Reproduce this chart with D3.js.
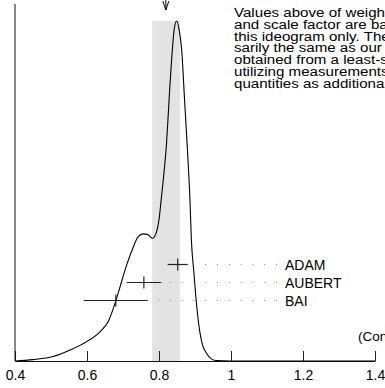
<!DOCTYPE html>
<html><head><meta charset="utf-8">
<script src="https://cdn.jsdelivr.net/npm/d3@7"></script>
<style>
html,body{margin:0;padding:0;background:#fff;overflow:hidden;}
svg{display:block;font-family:"Liberation Sans",Arial,sans-serif;}
</style></head>
<body>
<script>
// ---- data ----
const ideogramX = [0.400,0.450,0.506,0.553,0.599,0.636,0.659,0.678,0.692,0.710,0.729,0.742,0.756,0.770,0.782,0.792,0.801,0.806,0.811,0.821,0.828,0.837,0.842,0.849,0.856,0.863,0.871,0.879,0.886,0.890,0.897,0.905,0.914,0.921,0.932,0.944,0.961,0.997,1.400];
const ideogramY = [0.000,0.004,0.013,0.032,0.057,0.086,0.116,0.170,0.219,0.282,0.336,0.366,0.374,0.371,0.361,0.376,0.424,0.474,0.524,0.641,0.768,0.915,0.974,1.000,0.974,0.915,0.768,0.621,0.474,0.356,0.259,0.159,0.082,0.047,0.023,0.007,0.001,0.000,0.000];
const names = ["ADAM","AUBERT","BAI"];
const values = [0.852,0.758,0.680];
const errors = [0.028,0.048,0.089];
const weightedAvg = 0.819;
const avgBand = [0.781,0.858];
const tickValues = [0.4,0.6,0.8,1.0,1.2,1.4];
const noteLines = [
  "Values above of weighted average, error,",
  "and scale factor are based upon the data in",
  "this ideogram only.  They are not neces-",
  "sarily the same as our `best' values,",
  "obtained from a least-squares constrained fit",
  "utilizing measurements of other (related)",
  "quantities as additional information."
];
const clText = "(Confidence Level = 0.015)";

// ---- chart ----
const W = 385, H = 388;
const svg = d3.select("body").append("svg").attr("width", W).attr("height", H);
const x = d3.scaleLinear().domain([0.4,1.4]).range([15,375]);
const y = d3.scaleLinear().domain([0,1]).range([361,21]);
const row = d3.scalePoint().domain(names).range([264.5,300.5]);

// band
svg.append("rect")
  .attr("x", x(avgBand[0])).attr("y", y(1))
  .attr("width", x(avgBand[1]) - x(avgBand[0]))
  .attr("height", y(0) - y(1))
  .attr("fill", "#e3e3e3");

// arrow marking weighted average
const ax = x(weightedAvg);
svg.append("path")
  .attr("d", `M${ax},0 L${ax},10 M${ax-3},1 L${ax},10 L${ax+3},1`)
  .attr("stroke", "#000").attr("fill", "none").attr("stroke-width", 1);

// axes
const axis = d3.axisBottom(x).tickValues(tickValues)
  .tickFormat(d3.format("")).tickSizeInner(-10).tickSizeOuter(0).tickPadding(9);
const gx = svg.append("g").attr("transform", `translate(0,${y(0)})`).call(axis);
gx.select(".domain").attr("stroke", "#111");
gx.selectAll(".tick line").attr("stroke", "#222");
gx.selectAll(".tick text").attr("font-size", 14).attr("fill", "#000")
  .attr("font-family", "Liberation Sans, Arial, sans-serif");
svg.append("line").attr("x1", x(0.4)).attr("x2", x(0.4))
  .attr("y1", 4).attr("y2", y(0)).attr("stroke", "#111");

// ideogram curve
const pts = ideogramX.map((v,i) => [v, ideogramY[i]]);
svg.append("path")
  .datum(pts)
  .attr("d", d3.line().x(d => x(d[0])).y(d => y(d[1])).curve(d3.curveMonotoneX))
  .attr("fill", "none").attr("stroke", "#000").attr("stroke-width", 1.1);

// measurements
const labelX = 285, dotEnd = 277;
names.forEach((n,i) => {
  const yy = row(n);
  const x0 = x(values[i] - errors[i]), x1 = x(values[i] + errors[i]), xc = x(values[i]);
  svg.append("line").attr("x1", dotEnd).attr("x2", x1 + 8)
    .attr("y1", yy).attr("y2", yy)
    .attr("stroke", "#888").attr("stroke-width", 1).attr("stroke-dasharray", "1,10.8");
  svg.append("line").attr("x1", x0).attr("x2", x1).attr("y1", yy).attr("y2", yy)
    .attr("stroke", "#222").attr("stroke-width", 1.2);
  svg.append("line").attr("x1", xc).attr("x2", xc).attr("y1", yy-6).attr("y2", yy+6)
    .attr("stroke", "#222").attr("stroke-width", 1.2);
  svg.append("text").attr("x", labelX).attr("y", yy).attr("dy", "0.36em")
    .attr("font-size", 14).attr("fill", "#000").text(n);
});

// note text
svg.append("g").attr("transform", "translate(234,0) scale(1.12,1)")
  .selectAll("text").data(noteLines).join("text")
  .attr("x", 0).attr("y", (d,i) => 17 + i*11.8)
  .attr("font-size", 13.5).attr("fill", "#000").text(d => d);

svg.append("text").attr("x", 358).attr("y", 341).attr("font-size", 13.5)
  .attr("fill", "#000").text(clText);
</script>
</body></html>
